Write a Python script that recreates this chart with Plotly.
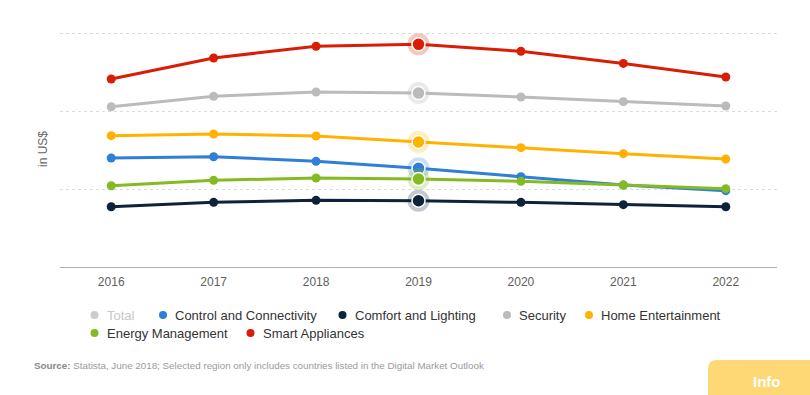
import plotly.graph_objects as go

# ---- data ----
years = ["2016", "2017", "2018", "2019", "2020", "2021", "2022"]
control_connectivity = [139.7, 141.4, 135.5, 126.5, 115.8, 105.0, 97.9]
comfort_lighting = [77.3, 82.9, 85.5, 85.0, 82.9, 79.9, 77.3]
security = [205.5, 218.8, 224.4, 223.0, 218.0, 212.0, 206.4]
home_entertainment = [168.4, 170.5, 168.0, 160.3, 153.0, 145.3, 138.5]
energy_management = [104.2, 111.1, 114.1, 112.8, 109.8, 105.1, 100.4]
smart_appliances = [241.0, 268.0, 283.0, 285.5, 276.5, 261.0, 243.6]

series_names = ["Control and Connectivity", "Comfort and Lighting", "Security",
                "Home Entertainment", "Energy Management", "Smart Appliances"]
series_values = [control_connectivity, comfort_lighting, security,
                 home_entertainment, energy_management, smart_appliances]
series_colors = ["#2f7ed8", "#0d233a", "#bbbbbb", "#ffb300", "#85bb22", "#d81e06"]
halo_colors = ["rgba(47,126,216,0.25)", "rgba(13,35,58,0.25)", "rgba(187,187,187,0.3)",
               "rgba(255,179,0,0.25)", "rgba(133,187,34,0.25)", "rgba(216,30,6,0.25)"]
highlight_year = "2019"

legend_labels = ["Total"] + series_names
legend_colors = ["#cccccc"] + series_colors
legend_text_colors = ["#c8c8c8"] + ["#333333"] * 6

# ---- layout geometry (pixels) ----
W, H = 810, 395
ML, MR, MT, MB = 60, 33, 31, 128
PW, PH = W - ML - MR, H - MT - MB
Y_TOP = PH / 0.78  # keep 0.78 px per unit so 300 sits just inside the top edge


def px_x(x):
    return (x - ML) / PW


def px_y(y):
    return (H - MB - y) / PH


fig = go.Figure()

for name, vals, col in zip(series_names, series_values, series_colors):
    fig.add_trace(go.Scatter(
        x=years, y=vals, name=name, mode="lines+markers",
        line=dict(color=col, width=3),
        marker=dict(color=col, size=9),
        showlegend=False, hoverinfo="skip"))

# hovered-state highlight on 2019
hi = years.index(highlight_year)
for name, vals, col, halo in zip(series_names, series_values, series_colors, halo_colors):
    fig.add_trace(go.Scatter(
        x=[years[hi]], y=[vals[hi]], mode="markers",
        marker=dict(color=halo, size=22, line=dict(width=0)),
        showlegend=False, hoverinfo="skip"))
    fig.add_trace(go.Scatter(
        x=[years[hi]], y=[vals[hi]], mode="markers",
        marker=dict(color=col, size=13, line=dict(color="white", width=1.5)),
        showlegend=False, hoverinfo="skip"))

# ---- custom legend (two rows) ----
legend_rows = [[0, 1, 2, 3, 4], [5, 6]]
legend_marker_x = [[94.5, 163, 342.5, 507, 589], [94.5, 250.5]]
legend_row_y = [315, 333]
shapes = []
annotations = []
for row, mxs, ry in zip(legend_rows, legend_marker_x, legend_row_y):
    for idx, mx in zip(row, mxs):
        shapes.append(dict(type="circle", xref="paper", yref="paper",
                           xsizemode="pixel", ysizemode="pixel",
                           xanchor=px_x(mx), yanchor=px_y(ry),
                           x0=-4, x1=4, y0=-4, y1=4,
                           fillcolor=legend_colors[idx], line=dict(width=0)))
        annotations.append(dict(text=legend_labels[idx], xref="paper", yref="paper",
                                x=px_x(mx + 10), y=px_y(ry), xanchor="left", yanchor="middle",
                                showarrow=False,
                                font=dict(family="Liberation Sans, Arial, sans-serif",
                                          size=13, color=legend_text_colors[idx])))

# source
annotations.append(dict(
    text="<b>Source:</b> <span style='color:#9a9a9a'>Statista, June 2018; Selected region only includes countries listed in the Digital Market Outlook</span>",
    xref="paper", yref="paper", x=px_x(32), y=px_y(365), xanchor="left", yanchor="middle",
    showarrow=False, font=dict(family="Liberation Sans, Arial, sans-serif", size=9.8, color="#8a8a8a")))

# Info box
x0, x1 = px_x(708), px_x(812)
yt, yb = px_y(360), px_y(397)
rx, ry_ = 9 / PW, 9 / PH
shapes.append(dict(type="path", xref="paper", yref="paper",
                   path=f"M {x0},{yb} L {x0},{yt - ry_} Q {x0},{yt} {x0 + rx},{yt} L {x1},{yt} L {x1},{yb} Z",
                   fillcolor="#fdd874", line=dict(width=0)))
annotations.append(dict(text="<b>Info</b>", xref="paper", yref="paper",
                        x=px_x(767), y=px_y(381), xanchor="center", yanchor="middle",
                        showarrow=False,
                        font=dict(family="Liberation Sans, Arial, sans-serif", size=15, color="white")))

fig.update_layout(
    width=W, height=H,
    margin=dict(l=ML, r=MR, t=MT, b=MB, autoexpand=False),
    paper_bgcolor="white", plot_bgcolor="white",
    showlegend=False,
    shapes=shapes, annotations=annotations,
    xaxis=dict(type="category", range=[-0.5, 6.5], showgrid=False, zeroline=False,
               showline=True, linecolor="#b0b0b0", linewidth=1,
               ticks="outside", ticklen=4, tickcolor="rgba(0,0,0,0)",
               tickfont=dict(family="Liberation Sans, Arial, sans-serif", size=12, color="#606060"),
               automargin=False, fixedrange=True),
    yaxis=dict(range=[0, Y_TOP], tickvals=[0, 100, 200, 300], showticklabels=False,
               showgrid=True, gridcolor="#dcdcdc", griddash="dot", gridwidth=1,
               zeroline=False, showline=False, ticks="",
               title=dict(text="in US$", standoff=8,
                          font=dict(family="Liberation Sans, Arial, sans-serif", size=12, color="#666666")),
               automargin=False, fixedrange=True),
)

fig.write_html("out.html", config={"displayModeBar": False},
               post_script="document.body.style.margin='0';document.body.style.padding='0';document.body.style.overflow='hidden';")
